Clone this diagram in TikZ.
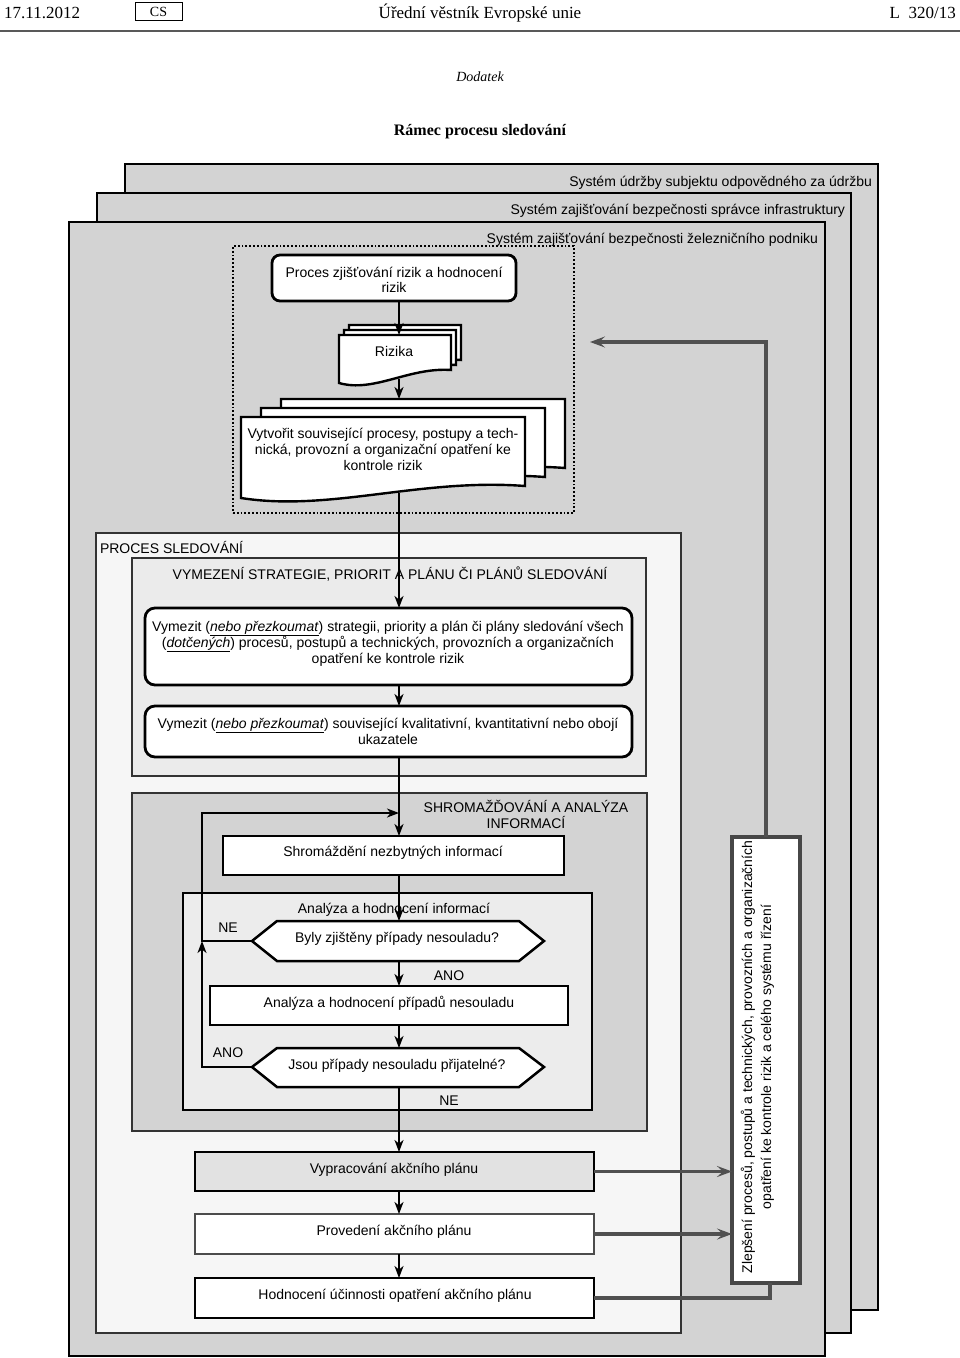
\documentclass[tikz,border=0pt]{standalone}
\usepackage{fontspec}
\setmainfont{Liberation Sans}
\newfontfamily\hdrfont{Liberation Serif}
\usetikzlibrary{arrows.meta}
\definecolor{laygray}{RGB}{211,211,211}
\definecolor{procfill}{RGB}{246,246,246}
\definecolor{vymfill}{RGB}{235,235,235}
\definecolor{shrfill}{RGB}{211,211,211}
\definecolor{anafill}{RGB}{236,236,236}
\definecolor{vypfill}{RGB}{226,226,226}
\definecolor{fbgray}{RGB}{80,80,80}
\begin{document}
\begin{tikzpicture}[x=1pt,y=-1pt,
  lbl/.style={font=\fontsize{14}{16}\selectfont, anchor=base, inner sep=0pt, outer sep=0pt},
  hdr/.style={font=\hdrfont\fontsize{17}{20}\selectfont, anchor=base, inner sep=0pt},
  bx/.style 2 args={anchor=north west, minimum width=#1pt, minimum height=#2pt, inner sep=0pt, outer sep=0pt},
  layer/.style={draw=black, line width=2.4pt, fill=laygray},
  grp/.style={draw=black!80, line width=1.6pt},
  boxw/.style={draw=black, line width=2.8pt, fill=white},
  flow/.style={draw=black, line width=1.5pt, -{Stealth[length=12pt,width=9pt,inset=3.5pt]}},
  fb/.style={draw=fbgray, line width=3.4pt},
  fbarrow/.style={fb, -{Stealth[length=15pt,width=11pt,inset=6pt]}}
]
\useasboundingbox (0,0) rectangle (960,1358);

% ---------- header ----------
\node[hdr, anchor=base west] (date) at (4,18) {17.11.2012};
\node[draw=black, line width=0.9pt, bx={47}{18}] (csbox) at (135,2) {};
\node[hdr, font=\hdrfont\fontsize{14}{16}\selectfont] (cs) at (158.5,16) {CS};
\node[hdr] (ttl) at (480,18) {Úřední věstník Evropské unie};
\node[hdr, anchor=base east] (pg) at (956,18) {L\enspace 320/13};
\draw[line width=2.4pt, black!65] (0,31) -- (960,31);
\node[hdr, font=\hdrfont\itshape\fontsize{14}{16}\selectfont] (dod) at (480,81) {Dodatek};
\node[hdr, font=\hdrfont\bfseries\fontsize{16}{18}\selectfont] (ram) at (480,135) {Rámec procesu sledování};

% ---------- layers ----------
\node[layer, bx={753}{1146}] (L1) at (125,164) {};
\node[lbl, anchor=base east] (L1t) at (872,186) {Systém údržby subjektu odpovědného za údržbu};
\node[layer, bx={754}{1140}] (L2) at (97,193) {};
\node[lbl, anchor=base east] (L2t) at (845,214) {Systém zajišťování bezpečnosti správce infrastruktury};
\node[layer, bx={756}{1134}] (L3) at (69,222) {};
\node[lbl, anchor=base east] (L3t) at (818,243) {Systém zajišťování bezpečnosti železničního podniku};

% ---------- risk group ----------
\node[draw=black, line width=2.2pt, dash pattern=on 1.8pt off 2pt, bx={341}{267}] (dot) at (233,246) {};
\node[boxw, rounded corners=8pt, bx={244}{46}] (proc) at (272,255) {};
\node[lbl] (proct1) at (394,277) {Proces zjišťování rizik a hodnocení};
\node[lbl] (proct2) at (394,292) {rizik};

\draw[boxw, line width=2.4pt] (349,325) -- (461,325) -- (461,360) .. controls (419,357) and (384,383) .. (349,373) -- cycle;
\draw[boxw, line width=2.4pt] (344,330) -- (456,330) -- (456,365) .. controls (414,362) and (379,388) .. (344,378) -- cycle;
\draw[boxw, line width=2.4pt] (339,335) -- (451,335) -- (451,370) .. controls (409,367) and (374,393) .. (339,383) -- cycle;
\node[lbl] (rizt) at (394,356) {Rizika};
\coordinate (rizTop) at (399,335);
\coordinate (rizBot) at (399,379);

\draw[boxw, line width=2.4pt] (281,399) -- (565,399) -- (565,468) .. controls (460,460) and (370,494) .. (281,480) -- cycle;
\draw[boxw, line width=2.4pt] (261,408) -- (545,408) -- (545,477) .. controls (440,469) and (350,503) .. (261,489) -- cycle;
\draw[boxw, line width=2.4pt] (241,417) -- (525,417) -- (525,486) .. controls (420,478) and (330,512) .. (241,498) -- cycle;
\node[lbl] (vyt1) at (383,438) {Vytvořit související procesy, postupy a tech-};
\node[lbl] (vyt2) at (383,454) {nická, provozní a organizační opatření ke};
\node[lbl] (vyt3) at (383,470) {kontrole rizik};
\coordinate (vytTop) at (399,399);
\coordinate (vytBot) at (399,493);

% ---------- monitoring process ----------
\node[grp, fill=procfill, bx={585}{800}] (ps) at (96,533) {};
\node[lbl, anchor=base west] (pst) at (100,553) {PROCES SLEDOVÁNÍ};
\node[grp, fill=vymfill, bx={514}{218}] (vym) at (132,558) {};
\node[lbl] (vymt) at (390,579) {VYMEZENÍ STRATEGIE, PRIORIT A PLÁNU ČI PLÁNŮ SLEDOVÁNÍ};
\node[boxw, rounded corners=10pt, bx={487}{77}] (b1) at (145,608) {};
\node[lbl] (b1t1) at (388,631) {Vymezit (\underline{\textit{nebo přezkoumat}}) strategii, priority a plán či plány sledování všech};
\node[lbl] (b1t2) at (388,647) {(\underline{\textit{dotčených}}) procesů, postupů a technických, provozních a organizačních};
\node[lbl] (b1t3) at (388,663) {opatření ke kontrole rizik};
\node[boxw, rounded corners=10pt, bx={487}{51}] (b2) at (145,706) {};
\node[lbl] (b2t1) at (388,728) {Vymezit (\underline{\textit{nebo přezkoumat}}) související kvalitativní, kvantitativní nebo obojí};
\node[lbl] (b2t2) at (388,744) {ukazatele};

\node[grp, fill=shrfill, bx={515}{338}] (shr) at (132,793) {};
\node[lbl] (shrt1) at (526,812) {SHROMAŽĎOVÁNÍ A ANALÝZA};
\node[lbl] (shrt2) at (526,828) {INFORMACÍ};
\node[boxw, bx={341}{39}] (shb) at (223,836) {};
\node[lbl] (shbt) at (393,856) {Shromáždění nezbytných informací};
\node[boxw, fill=anafill, bx={409}{217}] (ana) at (183,893) {};
\node[lbl] (anat) at (394,913) {Analýza a hodnocení informací};

\draw[boxw, line width=2.5pt] (252,941) -- (277,921) -- (519,921) -- (544,941) -- (519,961) -- (277,961) -- cycle;
\node[lbl] (d1t) at (397,942) {Byly zjištěny případy nesouladu?};
\coordinate (d1L) at (252,941);
\coordinate (d1T) at (399,921);
\coordinate (d1B) at (399,961);
\node[lbl] (ne1) at (228,932) {NE};
\node[lbl] (ano1) at (449,980) {ANO};

\node[boxw, bx={358}{39}] (bp) at (210,986) {};
\node[lbl] (bpt) at (389,1007) {Analýza a hodnocení případů nesouladu};

\draw[boxw, line width=2.5pt] (252,1067) -- (277,1048) -- (519,1048) -- (544,1067) -- (519,1087) -- (277,1087) -- cycle;
\node[lbl] (d2t) at (397,1069) {Jsou případy nesouladu přijatelné?};
\coordinate (d2L) at (252,1067);
\coordinate (d2T) at (399,1048);
\coordinate (d2B) at (399,1087);
\node[lbl] (ano2) at (228,1057) {ANO};
\node[lbl] (ne2) at (449,1105) {NE};

\node[boxw, fill=vypfill, bx={399}{39}] (vyp) at (195,1152) {};
\node[lbl] (vypt) at (394,1173) {Vypracování akčního plánu};
\node[boxw, draw=black!70, bx={399}{40}] (prov) at (195,1214) {};
\node[lbl] (provt) at (394,1235) {Provedení akčního plánu};
\node[boxw, bx={399}{40}] (hod) at (195,1278) {};
\node[lbl] (hodt) at (395,1299) {Hodnocení účinnosti opatření akčního plánu};

\node[boxw, draw=black!72, line width=3.4pt, bx={68}{446}] (zl) at (732,837) {};
\node[lbl, rotate=90] (zlt1) at (752,1057) {Zlepšení procesů, postupů a technických, provozních a organizačních};
\node[lbl, rotate=90] (zlt2) at (771,1057) {opatření ke kontrole rizik a celého systému řízení};

% ---------- connectors ----------
\coordinate (mx) at (399,0);
\draw[flow] (proc.south -| rizTop) -- (rizTop);
\draw[flow] (rizBot) -- (vytTop);
\draw[flow] (vytBot) -- (vytBot |- b1.north);
\draw[flow] (mx |- b1.south) -- (mx |- b2.north);
\draw[flow] (mx |- b2.south) -- (mx |- shb.north);
\draw[flow] (mx |- shb.south) -- (d1T);
\draw[flow] (d1B) -- (mx |- bp.north);
\draw[flow] (mx |- bp.south) -- (d2T);
\draw[flow] (d2B) -- (mx |- vyp.north);
\draw[flow] (mx |- vyp.south) -- (mx |- prov.north);
\draw[flow] (mx |- prov.south) -- (mx |- hod.north);

\coordinate (lpB) at (202,941);
\coordinate (lpT) at (202,813);
\coordinate (lpE) at (399,813);
\coordinate (lp2) at (202,1067);
\draw[flow] (d1L) -- (lpB) -- (lpT) -- (lpE);
\draw[flow] (d2L) -- (lp2) -- (lpB);

\draw[fbarrow] (vyp.east) -- (vyp.east -| zl.west);
\draw[fbarrow] (prov.east) -- (prov.east -| zl.west);
\coordinate (hc) at (770,1298);
\draw[fb] (hod.east) -- (hod.east -| hc) -- (hc |- zl.south);
\coordinate (fbT) at (766,342);
\coordinate (fbE) at (590,342);
\draw[fbarrow] (zl.north -| fbT) -- (fbT) -- (fbE);
\end{tikzpicture}
\end{document}
